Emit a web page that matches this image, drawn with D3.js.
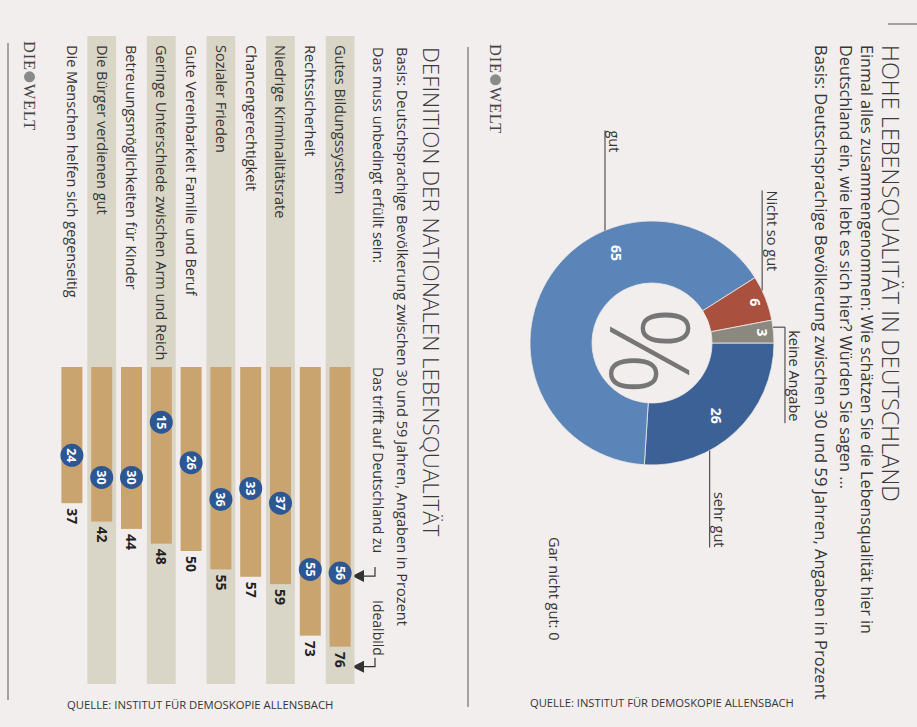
<!DOCTYPE html>
<html>
<head>
<meta charset="utf-8">
<script src="https://cdn.jsdelivr.net/npm/d3@7"></script>
<style>
  body { margin: 0; background: #f3eeee; }
</style>
</head>
<body>
<div id="chart"></div>
<script>
// --- data ---
var ratingLabels = ["sehr gut", "gut", "Nicht so gut", "keine Angabe"];
var ratingValues = [26, 65, 6, 3];
var ratingZero = "Gar nicht gut: 0";

var categories = [
    "Gutes Bildungssystem",
    "Rechtssicherheit",
    "Niedrige Kriminalitätsrate",
    "Chancengerechtigkeit",
    "Sozialer Frieden",
    "Gute Vereinbarkeit Familie und Beruf",
    "Geringe Unterschiede zwischen Arm und Reich",
    "Betreuungsmöglichkeiten für Kinder",
    "Die Bürger verdienen gut",
    "Die Menschen helfen sich gegenseitig"
];
var idealValues = [76, 73, 59, 57, 55, 50, 48, 44, 42, 37];
var actualValues = [56, 55, 37, 33, 36, 26, 15, 30, 30, 24];

var source = "QUELLE: INSTITUT FÜR DEMOSKOPIE ALLENSBACH";

// --- layout ---
var width = 917, height = 727;
var font = "'Open Sans', sans-serif";
var ink = "#353535";

var svg = d3.select("#chart").append("svg")
    .attr("width", width)
    .attr("height", height);

svg.append("rect")
    .attr("width", width)
    .attr("height", height)
    .attr("fill", "#f3eeee");

// the whole page is turned a quarter clockwise
var page = svg.append("g")
    .attr("transform", "translate(" + width + ",0) rotate(90)");

function label(parent, x, y, str, size, weight, fill) {
    return parent.append("text")
        .attr("x", x)
        .attr("y", y)
        .attr("font-family", font)
        .attr("font-size", size)
        .attr("font-weight", weight || 400)
        .attr("fill", fill || ink)
        .text(str);
}

// newspaper logo, spread out to a fixed width
function logo(parent, x, y, span) {
    var g = parent.append("g").attr("transform", "translate(" + x + "," + y + ")");
    var serif = "'Liberation Serif', 'DejaVu Serif', serif";
    var die = g.append("text")
        .attr("font-family", serif).attr("font-size", 16.5).attr("fill", "#444")
        .text("DIE");
    var welt = g.append("text")
        .attr("font-family", serif).attr("font-size", 16.5).attr("fill", "#444")
        .text("WELT");
    var globe = 13;
    var natural = die.node().getComputedTextLength() + welt.node().getComputedTextLength() + globe;
    var ls = Math.max(0, (span - natural) / 7);
    die.attr("letter-spacing", ls);
    welt.attr("letter-spacing", ls);
    var w = die.node().getComputedTextLength();
    g.append("circle")
        .attr("cx", w + globe / 2 - ls / 2)
        .attr("cy", -5.5)
        .attr("r", 5.5)
        .attr("fill", "#8a8a8a");
    welt.attr("x", w + globe);
}

// small rules
page.append("line").attr("x1", 24).attr("x2", 24).attr("y1", 0).attr("y2", 29)
    .attr("stroke", "#555").attr("stroke-width", 1);
page.append("line").attr("x1", 47).attr("x2", 707).attr("y1", 449).attr("y2", 449)
    .attr("stroke", "#555").attr("stroke-width", 1);
page.append("line").attr("x1", 43).attr("x2", 700).attr("y1", 909).attr("y2", 909)
    .attr("stroke", "#555").attr("stroke-width", 1);

// ---------------- chart 1: donut ----------------
label(page, 45, 35, "HOHE LEBENSQUALITÄT IN DEUTSCHLAND", 23.5, 300, "#3a3a3a");
label(page, 45, 56, "Einmal alles zusammengenommen: Wie schätzen Sie die Lebensqualität hier in", 16.1);
label(page, 45, 77, "Deutschland ein, wie lebt es sich hier? Würden Sie sagen ...", 16.3);
label(page, 45, 102, "Basis: Deutschsprachige Bevölkerung zwischen 30 und 59 Jahren, Angaben in Prozent", 16.5);

var sliceColors = ["#3c6197", "#5b85b8", "#a9503f", "#8b8880"];
var rOuter = 122, rInner = 60;
var cx = 343, cy = 265;

var pie = d3.pie().sort(null).value(function (d) { return d; });
var arcs = pie(ratingValues);
var arc = d3.arc().innerRadius(rInner).outerRadius(rOuter);

var donut = page.append("g").attr("transform", "translate(" + cx + "," + cy + ")");

donut.selectAll("path.slice")
    .data(arcs)
    .join("path")
    .attr("class", "slice")
    .attr("d", arc)
    .attr("fill", function (d, i) { return sliceColors[i]; })
    .attr("stroke", "#eeeae6")
    .attr("stroke-width", 0.8);

// where inside the slice the number sits (fraction of its angle)
var numberAt = [0.52, 0.66, 0.5, 0.5];
donut.selectAll("text.num")
    .data(arcs)
    .join("text")
    .attr("class", "num")
    .attr("transform", function (d, i) {
        var a = d.startAngle + numberAt[i] * (d.endAngle - d.startAngle);
        var r = d.value < 10 ? rOuter - 11 : 97;
        return "translate(" + (r * Math.sin(a)) + "," + (-r * Math.cos(a)) + ")";
    })
    .attr("text-anchor", "middle")
    .attr("dy", "0.36em")
    .attr("font-family", font)
    .attr("font-size", 14)
    .attr("font-weight", 700)
    .attr("fill", "#fff")
    .text(function (d) { return d.value; });

donut.append("text")
    .attr("text-anchor", "middle")
    .attr("dy", "0.36em")
    .attr("x", 8)
    .attr("y", 2)
    .attr("font-family", font)
    .attr("font-size", 110)
    .attr("font-weight", 300)
    .attr("fill", "#767676")
    .text("%");

// leader lines: anchor on the rim, then a straight run
var leaders = [
    { at: 0.66, dx: 97, up: 0, anchor: "end", tx: 0, ty: -4 },
    { at: 0.657, dx: -100, up: 0, anchor: "start", tx: 0, ty: -4 },
    { at: 0.32, dx: -100, up: 0, anchor: "start", tx: 0, ty: -5 },
    { at: 0.31, dx: 96, up: 12, anchor: "start", tx: 3, ty: -4 }
];

arcs.forEach(function (d, i) {
    var L = leaders[i];
    var a = d.startAngle + L.at * (d.endAngle - d.startAngle);
    var x0 = rOuter * Math.sin(a), y0 = -rOuter * Math.cos(a);
    var y1 = y0 - L.up;
    var x1 = x0 + L.dx;
    var path = d3.path();
    path.moveTo(x0, y0);
    path.lineTo(x0, y1);
    path.lineTo(x1, y1);
    donut.append("path")
        .attr("d", path.toString())
        .attr("fill", "none")
        .attr("stroke", "#333")
        .attr("stroke-width", 1);
    var tx = L.anchor === "end" ? x1 : Math.min(x0, x1) + L.tx;
    label(donut, tx, y1 + L.ty, ratingLabels[i], 14.5)
        .attr("text-anchor", L.anchor);
});

label(page, 537, 368, ratingZero, 14.5);

logo(page, 44, 427, 90);

// ---------------- chart 2: bars ----------------
label(page, 47, 494, "DEFINITION DER NATIONALEN LEBENSQUALITÄT", 22.4, 300, "#3a3a3a");
label(page, 47, 520, "Basis: Deutschsprachige Bevölkerung zwischen 30 und 59 Jahren, Angaben in Prozent", 14.6);
label(page, 47, 544, "Das muss unbedingt erfüllt sein:", 14.4);

var x = d3.scaleLinear().domain([0, 100]).range([367, 735]);
var y = d3.scaleBand().domain(categories).range([562, 860]);
var barH = 21;

label(page, x(0), 544, "Das trifft auf Deutschland zu", 14);
label(page, 600, 544, "Idealbild", 14);

function pointer(u) {
    var p = d3.path();
    p.moveTo(u - 9, 542);
    p.lineTo(u, 542);
    p.lineTo(u, 554);
    page.append("path").attr("d", p.toString())
        .attr("fill", "none").attr("stroke", "#333").attr("stroke-width", 1.2);
    page.append("path")
        .attr("d", "M" + (u - 6) + ",553L" + (u + 6) + ",553L" + u + ",565Z")
        .attr("fill", "#333");
}
pointer(x(actualValues[0]) + 3);
pointer(x(idealValues[0]) + 20);

var rows = page.append("g");

rows.selectAll("rect.stripe")
    .data(categories.filter(function (c, i) { return i % 2 === 0; }))
    .join("rect")
    .attr("class", "stripe")
    .attr("x", 36)
    .attr("width", 684 - 36)
    .attr("y", function (d) { return y(d) + 0.5; })
    .attr("height", y.bandwidth() - 1)
    .attr("fill", "#d9d5c7");

rows.selectAll("rect.bar")
    .data(categories)
    .join("rect")
    .attr("class", "bar")
    .attr("x", x(0))
    .attr("width", function (d, i) { return x(idealValues[i]) - x(0); })
    .attr("y", function (d) { return y(d) + (y.bandwidth() - barH) / 2; })
    .attr("height", barH)
    .attr("fill", "#c9a46f");

rows.selectAll("text.cat")
    .data(categories)
    .join("text")
    .attr("class", "cat")
    .attr("x", 45)
    .attr("y", function (d) { return y(d) + y.bandwidth() / 2; })
    .attr("dy", "0.35em")
    .attr("font-family", font)
    .attr("font-size", 14.5)
    .attr("fill", ink)
    .text(function (d) { return d; });

rows.selectAll("text.ideal")
    .data(categories)
    .join("text")
    .attr("class", "ideal")
    .attr("x", function (d, i) { return x(idealValues[i]) + 5; })
    .attr("y", function (d) { return y(d) + y.bandwidth() / 2; })
    .attr("dy", "0.36em")
    .attr("font-family", font)
    .attr("font-size", 14)
    .attr("font-weight", 700)
    .attr("fill", "#222")
    .text(function (d, i) { return idealValues[i]; });

var dots = rows.selectAll("g.dot")
    .data(categories)
    .join("g")
    .attr("class", "dot")
    .attr("transform", function (d, i) {
        return "translate(" + x(actualValues[i]) + "," + (y(d) + y.bandwidth() / 2) + ")";
    });

dots.append("circle")
    .attr("r", 11.5)
    .attr("fill", "#2d5793");

dots.append("text")
    .attr("text-anchor", "middle")
    .attr("dy", "0.36em")
    .attr("font-family", font)
    .attr("font-size", 12.5)
    .attr("font-weight", 700)
    .attr("fill", "#fff")
    .text(function (d, i) { return actualValues[i]; });

logo(page, 41, 893, 90);

// the two source lines are printed straight, not turned
svg.append("text")
    .attr("x", 530).attr("y", 707)
    .attr("font-family", font).attr("font-size", 11.2)
    .attr("fill", ink)
    .text(source);
svg.append("text")
    .attr("x", 67).attr("y", 709)
    .attr("font-family", font).attr("font-size", 11.3)
    .attr("fill", ink)
    .text(source);
</script>
</body>
</html>
